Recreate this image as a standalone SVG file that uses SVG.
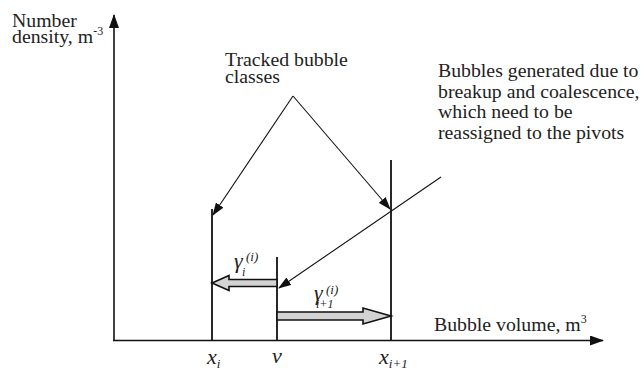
<svg xmlns="http://www.w3.org/2000/svg" width="643" height="372" viewBox="0 0 643 372">
<style>
text{font-family:"Liberation Serif","Times New Roman",serif;fill:#222}
.lbl{font-size:19.8px}
.it{font-style:italic}
.ax{stroke:#111;stroke-width:1.6;fill:none}
.vl{stroke:#111;stroke-width:1.8;fill:none}
.cn{stroke:#111;stroke-width:1.1;fill:none}
.blk{fill:#d3d3d3;stroke:#111;stroke-width:1.6;stroke-linejoin:miter}
</style>
<defs>
<marker id="ah" markerUnits="userSpaceOnUse" markerWidth="14" markerHeight="10" viewBox="0 0 14 10" refX="13" refY="5" orient="auto"><path d="M0,0 L14,5 L0,10 Z" fill="#111"/></marker>
<marker id="ahs" markerUnits="userSpaceOnUse" markerWidth="13" markerHeight="9" viewBox="0 0 13 9" refX="12" refY="4.5" orient="auto"><path d="M0,0 L13,4.5 L0,9 Z" fill="#111"/></marker>
</defs>
<g id="axes">
<line class="ax" x1="114" y1="341" x2="114" y2="15" marker-end="url(#ah)"/>
<line class="ax" x1="113" y1="340.5" x2="603" y2="340.5" marker-end="url(#ah)"/>
<text class="lbl" x="12" y="27">Number<tspan x="12" y="43">density, m</tspan><tspan font-size="12" dy="-8">-3</tspan></text>
<text class="lbl" x="434" y="331">Bubble volume, m<tspan font-size="12" dy="-8">3</tspan></text>
</g>
<g id="xi">
<line class="vl" x1="212" y1="209" x2="212" y2="340"/>
<text class="it" font-size="22" x="207" y="364">x<tspan font-size="13" dy="4">i</tspan></text>
</g>
<g id="v">
<line class="vl" x1="277" y1="257" x2="277" y2="340"/>
<text class="it" font-size="22" x="272" y="363">v</text>
</g>
<g id="xi1">
<line class="vl" x1="391" y1="160" x2="391" y2="340"/>
<text class="it" font-size="22" x="379" y="364">x<tspan font-size="13" dy="4">i+1</tspan></text>
</g>
<g id="gamma-left">
<path class="blk" d="M277,279.5 L229,279.5 L229,275.5 L212,283 L229,290.5 L229,286.5 L277,286.5 Z"/>
<text class="it" font-size="22" x="234" y="268">γ<tspan font-size="12" x="242" y="276">i</tspan><tspan font-size="13" x="246" y="261">(i)</tspan></text>
</g>
<g id="gamma-right">
<path class="blk" d="M277,312 L363,312 L363,308 L391,316 L363,324 L363,320 L277,320 Z"/>
<text class="it" font-size="22" x="314" y="300">γ<tspan font-size="12" x="316" y="308">i+1</tspan><tspan font-size="13" x="326" y="294">(i)</tspan></text>
</g>
<g id="tracked">
<text class="lbl" x="225" y="66">Tracked bubble<tspan x="225" y="83">classes</tspan></text>
</g>
<g id="generated">
<text class="lbl" x="438" y="77">Bubbles generated due to<tspan x="438" y="98">breakup and coalescence,</tspan><tspan x="438" y="118">which need to be</tspan><tspan x="438" y="139">reassigned to the pivots</tspan></text>
</g>
<g id="connectors">
<line class="cn" x1="293" y1="96" x2="213" y2="215" marker-end="url(#ahs)"/>
<line class="cn" x1="293" y1="96" x2="390" y2="209" marker-end="url(#ahs)"/>
<line class="cn" x1="441" y1="177" x2="279" y2="288" marker-end="url(#ahs)"/>
</g>
</svg>
